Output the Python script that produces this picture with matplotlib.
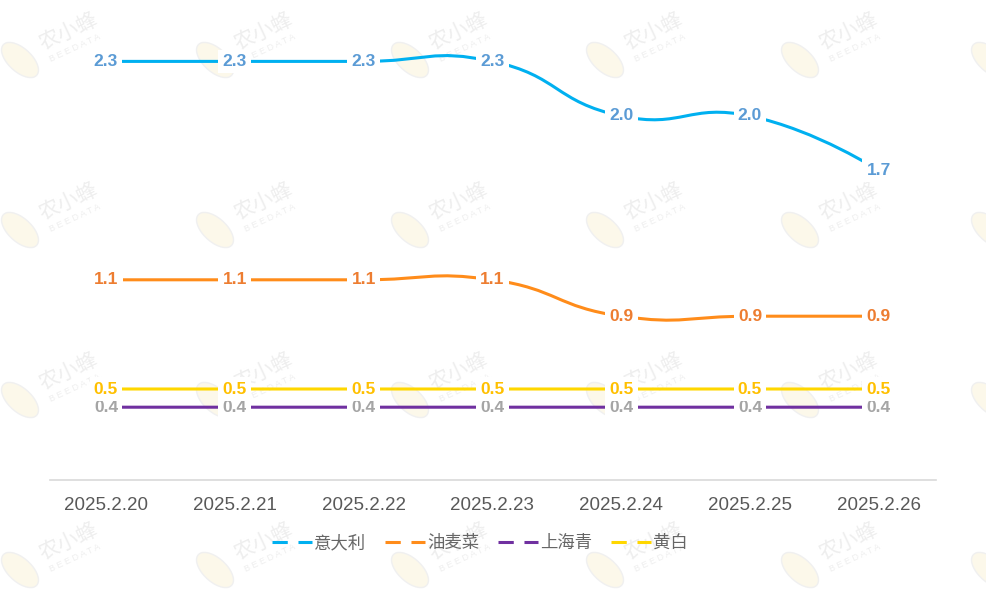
import matplotlib
matplotlib.use('Agg')
import matplotlib.pyplot as plt
from matplotlib.path import Path
from matplotlib.patches import PathPatch, Ellipse
from matplotlib.lines import Line2D
import numpy as np

dates = ['2025.2.20', '2025.2.21', '2025.2.22', '2025.2.23', '2025.2.24', '2025.2.25', '2025.2.26']
names = ['意大利', '油麦菜', '上海青', '黄白']
yidali = [2.3, 2.3, 2.3, 2.3, 2.0, 2.0, 1.7]
youmaicai = [1.1, 1.1, 1.1, 1.1, 0.9, 0.9, 0.9]
shanghaiqing = [0.4, 0.4, 0.4, 0.4, 0.4, 0.4, 0.4]
huangbai = [0.5, 0.5, 0.5, 0.5, 0.5, 0.5, 0.5]

line_colors = ['#00b0f0', '#ff8c1a', '#7030a0', '#ffd700']
label_colors = ['#5b9bd5', '#ed7d31', '#a5a5a5', '#ffc000']

W, H = 986, 589
PX_X = 128.8   # pixels per category
PX_Y = 182.0   # pixels per value unit


def smooth_path(xs, ys, smooth=0.5):
  # echarts (v4) style bezier smoothing, computed in pixel space
  pts = np.column_stack([np.array(xs, float) * PX_X, np.array(ys, float) * PX_Y])
  n = len(pts)
  verts = [pts[0]]
  codes = [Path.MOVETO]
  cp0 = pts[0].copy()
  for i in range(1, n):
    p = pts[i]
    prev = pts[i - 1]
    if i + 1 < n:
      nxt = pts[i + 1]
      v = nxt - prev
      lp = np.hypot(*(p - prev))
      ln = np.hypot(*(p - nxt))
      r = ln / (ln + lp)
      cp1 = p - v * smooth * (1 - r)
    else:
      v = np.zeros(2)
      r = 0.5
      cp1 = p.copy()
    verts += [cp0, cp1, p]
    codes += [Path.CURVE4] * 3
    cp0 = p + v * smooth * r
  verts = np.array(verts) / np.array([PX_X, PX_Y])
  return Path(verts, codes)


fig = plt.figure(figsize=(W / 100, H / 100), dpi=100)

# faint watermark tiles
for ty in [60, 230, 400, 570]:
  for tx in [20, 215, 410, 605, 800, 990]:
    fig.patches.append(Ellipse((tx / W, 1 - ty / H), 28 / W, 38 / H, angle=25,
                               transform=fig.transFigure, facecolor='#fcf8ea',
                               edgecolor='#f0f0f0', lw=1, zorder=0))
    if tx > 900:
      continue
    fig.text((tx + 48) / W, 1 - (ty - 28) / H, '农小蜂', fontsize=15, rotation=25,
             color='#eeeeee', ha='center', va='center', family=['Noto Sans CJK SC', 'DejaVu Sans'], zorder=0)
    fig.text((tx + 55) / W, 1 - (ty - 12) / H, 'B E E D A T A', fontsize=6.5, rotation=25,
             color='#eeeeee', ha='center', va='center', family='Liberation Sans', zorder=0)

ax = fig.add_axes([50 / W, (H - 480) / H, (936 - 50) / W, (480 - 25) / H])
ax.set_zorder(5)
ax.patch.set_alpha(0)
x = np.arange(len(dates))
x0 = (50 - 106) / PX_X
ax.set_xlim(x0, x0 + (936 - 50) / PX_X)
ax.set_ylim(0, 2.5)

series = [yidali, youmaicai, shanghaiqing, huangbai]
for vals, lc, tc in zip(series, line_colors, label_colors):
  ax.add_patch(PathPatch(smooth_path(x, vals), facecolor='none', edgecolor=lc, lw=2.2, zorder=2))
  for xi, v in zip(x, vals):
    ax.text(xi, v, '%.1f' % v, color=tc, fontsize=12.5, fontweight='bold', family='Liberation Sans',
            ha='center', va='center', zorder=3,
            bbox=dict(boxstyle='square,pad=0.25', facecolor='white', edgecolor='none'))

for s in ['top', 'right', 'left']:
  ax.spines[s].set_visible(False)
ax.spines['bottom'].set_color('#d9d9d9')
ax.spines['bottom'].set_linewidth(1.2)
ax.set_yticks([])
ax.set_xticks(x)
ax.set_xticklabels(dates, fontsize=13.5, color='#595959', family='Liberation Sans')
ax.tick_params(axis='x', length=0, pad=12)

handles = [Line2D([0], [0], color=c, lw=2.2, dashes=(5, 3.5)) for c in line_colors]
leg = fig.legend(handles, names, loc='center', bbox_to_anchor=(480 / W, 1 - 543 / H), ncol=4,
                 frameon=False, handlelength=2.3, handletextpad=0.1, columnspacing=1.1,
                 prop={'family': ['Noto Sans CJK SC', 'DejaVu Sans'], 'size': 12.5}, labelcolor='#666666')
leg.set_zorder(6)

fig.savefig('out.png', dpi=100)
